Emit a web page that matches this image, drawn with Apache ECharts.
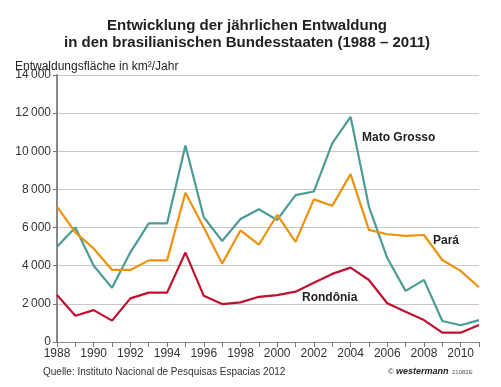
<!DOCTYPE html>
<html>
<head>
<meta charset="utf-8">
<script src="https://cdn.jsdelivr.net/npm/echarts@6/dist/echarts.min.js"></script>
<style>
html,body{margin:0;padding:0;background:#fff;}
#chart{width:501px;height:387px;}
</style>
</head>
<body>
<div id="chart"></div>
<script>
var years = ['1988','1989','1990','1991','1992','1993','1994','1995','1996','1997','1998','1999','2000','2001','2002','2003','2004','2005','2006','2007','2008','2009','2010','2011'];
var matoGrosso = [5000,6000,4000,2840,4700,6220,6220,10300,6540,5300,6450,6960,6400,7700,7890,10410,11810,7100,4400,2680,3260,1100,880,1150];
var para = [7100,5750,4900,3780,3780,4280,4280,7830,6000,4110,5850,5100,6660,5250,7480,7140,8800,5880,5650,5560,5610,4300,3730,2870];
var rondonia = [2460,1380,1670,1120,2290,2590,2590,4690,2420,1990,2080,2370,2460,2640,3110,3570,3900,3250,2030,1590,1150,490,490,890];
var yTicks = [0,2000,4000,6000,8000,10000,12000,14000];

var chart = echarts.init(document.getElementById('chart'));
var font = '"Liberation Sans", Arial, sans-serif';
function fmt(v){ v = Math.round(v); if (v >= 1000) { var s = String(v); return s.slice(0, s.length-3) + '\u2009' + s.slice(-3); } return String(v); }

var option = {
  backgroundColor: '#fff',
  animation: false,
  title: {
    text: 'Entwicklung der jährlichen Entwaldung\nin den brasilianischen Bundesstaaten (1988 – 2011)',
    left: 242, top: 12, textAlign: 'center',
    textStyle: { fontFamily: font, fontSize: 15, fontWeight: 'bold', color: '#222', lineHeight: 17 }
  },
  grid: { left: 57, right: 22, top: 75, bottom: 45, containLabel: false },
  xAxis: {
    type: 'category', data: years, boundaryGap: false,
    axisLine: { lineStyle: { color: '#888', width: 1 } },
    axisTick: { show: true, interval: 0, length: 5, lineStyle: { color: '#777' } },
    axisLabel: { interval: 1, color: '#333', fontFamily: font, fontSize: 12, margin: 6 },
    splitLine: { show: false }
  },
  yAxis: {
    type: 'value', min: 0, max: 14000, interval: 2000,
    axisLine: { show: true, lineStyle: { color: '#888', width: 2 } },
    axisTick: { show: true, length: 4, lineStyle: { color: '#777' } },
    axisLabel: { color: '#333', fontFamily: font, fontSize: 12, margin: 6, formatter: fmt },
    splitLine: { lineStyle: { color: '#c8c8c8', width: 1 } }
  },
  series: [
    { name: 'Mato Grosso', type: 'line', data: matoGrosso, symbol: 'none', lineStyle: { color: '#4d9b96', width: 2.2 }, z: 3 },
    { name: 'Pará', type: 'line', data: para, symbol: 'none', lineStyle: { color: '#eb920f', width: 2.2 }, z: 4 },
    { name: 'Rondônia', type: 'line', data: rondonia, symbol: 'none', lineStyle: { color: '#c0102f', width: 2.2 }, z: 5 }
  ],
  graphic: [
    { type: 'text', left: 15, top: 61, style: { text: 'Entwaldungsfläche in km²/Jahr', font: '12px ' + font, fill: '#222' } },
    { type: 'text', left: 362, top: 132, style: { text: 'Mato Grosso', font: 'bold 12px ' + font, fill: '#222' } },
    { type: 'text', left: 433, top: 235, style: { text: 'Pará', font: 'bold 12px ' + font, fill: '#222' } },
    { type: 'text', left: 302, top: 292, style: { text: 'Rondônia', font: 'bold 12px ' + font, fill: '#222' } },
    { type: 'text', left: 43, top: 367, style: { text: 'Quelle: Instituto Nacional de Pesquisas Espacias 2012', font: '10px ' + font, fill: '#333' } },
    { type: 'text', left: 388, top: 368, style: { text: '© ', font: '8px ' + font, fill: '#333' } },
    { type: 'text', left: 396, top: 367, style: { text: 'westermann', font: 'italic bold 9px ' + font, fill: '#222' } },
    { type: 'text', left: 452, top: 369, style: { text: '21082E', font: '6px ' + font, fill: '#555' } }
  ]
};
chart.setOption(option);
</script>
</body>
</html>
